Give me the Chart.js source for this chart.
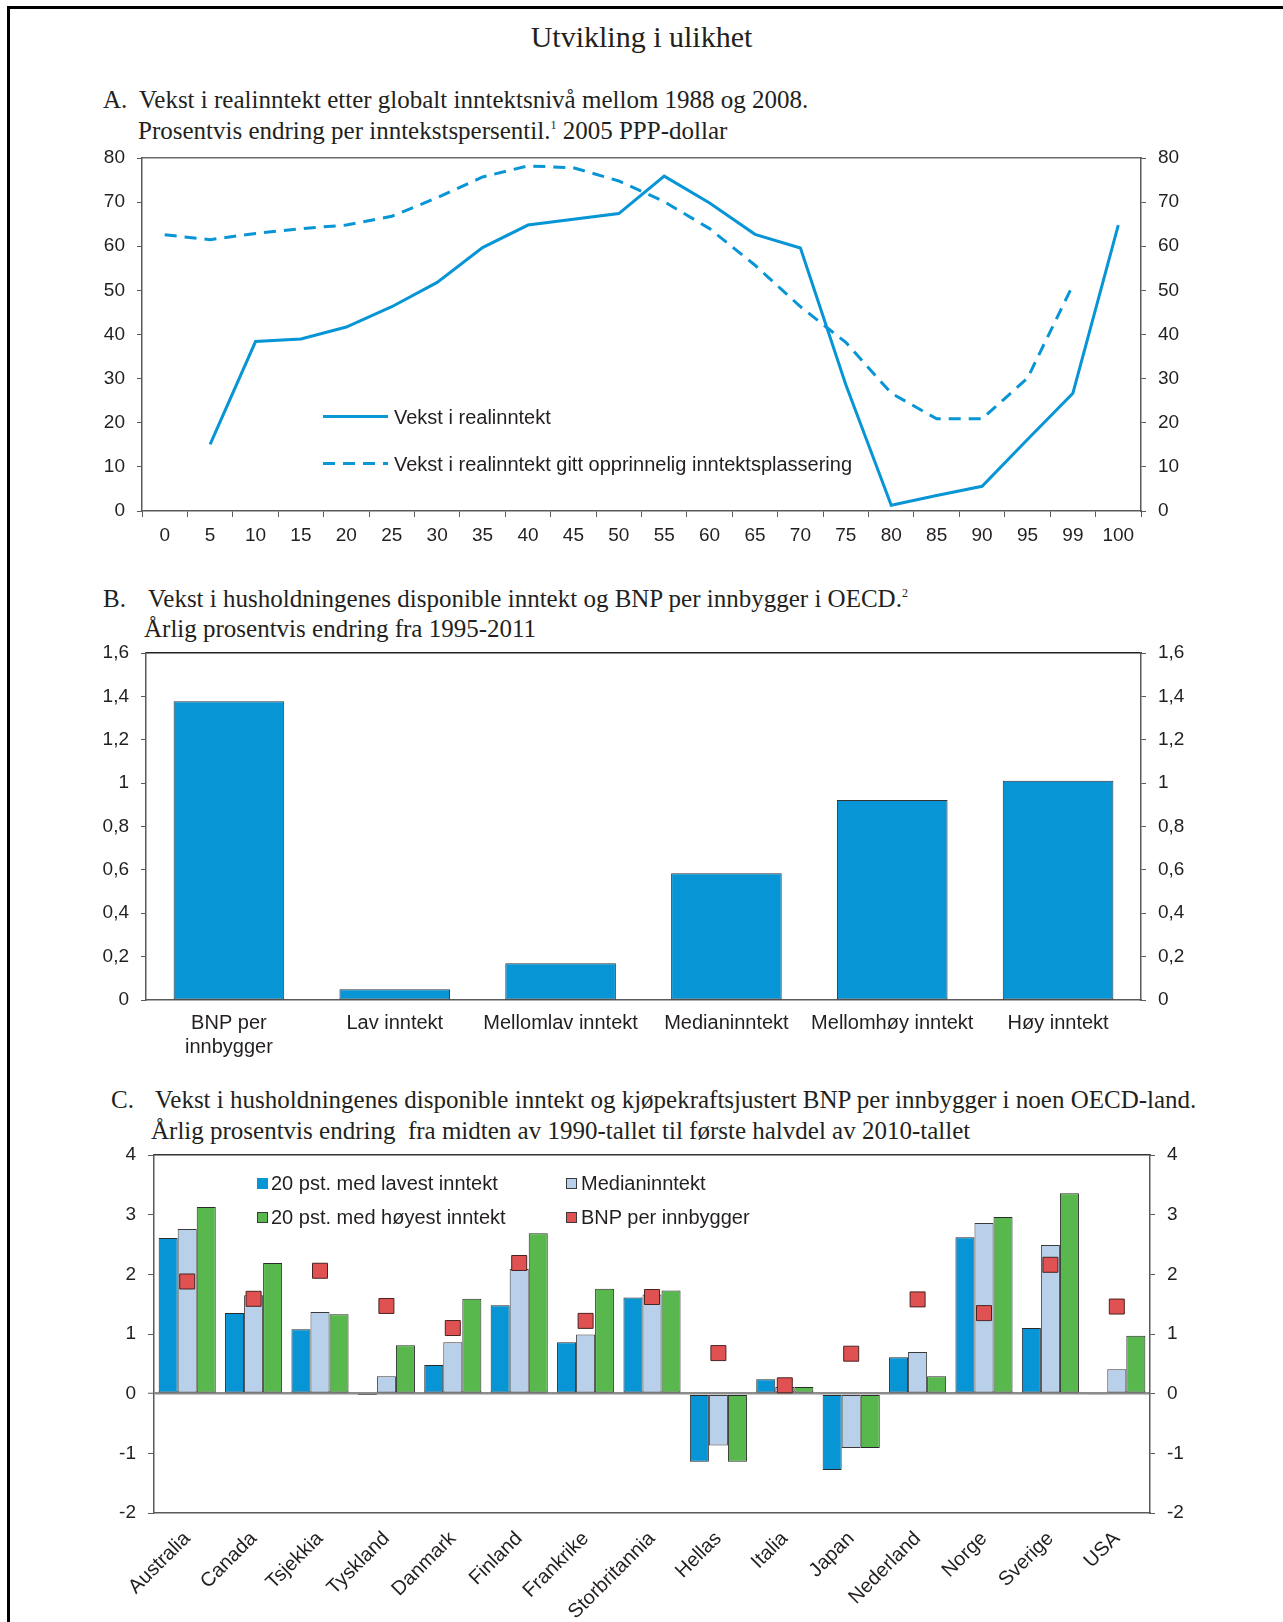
<!DOCTYPE html>
<html lang="no">
<head>
<meta charset="UTF-8">
<title>Utvikling i ulikhet</title>
<script src="https://cdn.jsdelivr.net/npm/chart.js"></script>
<style>
  html { overflow: hidden; }
  html, body { margin: 0; padding: 0; background: #fff; }
  body { width: 1283px; height: 1622px; position: relative; overflow: hidden; color: #231f20; }
  .frame { position: absolute; left: 7px; top: 6px; width: 1400px; height: 1700px; border-left: 3px solid #000; border-top: 3px solid #000; }
  .serif { position: absolute; font-family: 'Liberation Serif', 'Times New Roman', serif; font-size: 25px; line-height: 30px; white-space: pre; }
  .serif sup { font-size: 12px; vertical-align: 10px; line-height: 0; }
  .title { font-size: 30px; left: 0; width: 1283px; text-align: center; }
  .sans { position: absolute; font-family: 'Liberation Sans', Arial, sans-serif; font-size: 20px; line-height: 24px; white-space: nowrap; }
  .swatch { position: absolute; width: 9px; height: 9px; border: 1px solid #3a3a3a; }
  canvas { position: absolute; left: 0; }
</style>
</head>
<body>
<div class="frame"></div>

<div class="serif title" style="top:22px;">Utvikling i ulikhet</div>

<div class="serif" style="left:103px; top:85px;">A.</div>
<div class="serif" style="left:139px; top:85px;">Vekst i realinntekt etter globalt inntektsnivå mellom 1988 og 2008.</div>
<div class="serif" style="left:138px; top:116px;">Prosentvis endring per inntekstspersentil.<sup>1</sup> 2005 PPP-dollar</div>

<div class="serif" style="left:103px; top:584px;">B.</div>
<div class="serif" style="left:148px; top:584px;">Vekst i husholdningenes disponible inntekt og BNP per innbygger i OECD.<sup>2</sup></div>
<div class="serif" style="left:144px; top:614px;">Årlig prosentvis endring fra 1995-2011</div>

<div class="serif" style="left:111px; top:1085px;">C.</div>
<div class="serif" style="left:155px; top:1085px;">Vekst i husholdningenes disponible inntekt og kjøpekraftsjustert BNP per innbygger i noen OECD-land.</div>
<div class="serif" style="left:151px; top:1116px;">Årlig prosentvis endring  fra midten av 1990-tallet til første halvdel av 2010-tallet</div>

<canvas id="chartA" width="1283" height="426" style="top:134px;"></canvas>
<canvas id="chartB" width="1283" height="441" style="top:629px;"></canvas>
<canvas id="chartC" width="1283" height="491" style="top:1131px;"></canvas>

<!-- legend A -->
<div style="position:absolute; left:323px; top:415px; width:65px; height:3px; background:#0b96d4;"></div>
<div class="sans" style="left:394px; top:405px;">Vekst i realinntekt</div>
<div style="position:absolute; left:323px; top:462px; width:65px; height:3px; background:repeating-linear-gradient(90deg, #0b96d4 0 12px, transparent 12px 20px);"></div>
<div class="sans" style="left:394px; top:452px;">Vekst i realinntekt gitt opprinnelig inntektsplassering</div>

<!-- legend C -->
<div class="swatch" style="left:257px; top:1178px; background:#0795d5; border-color:#0795d5;"></div>
<div class="sans" style="left:271px; top:1171px;">20 pst. med lavest inntekt</div>
<div class="swatch" style="left:566px; top:1178px; background:#b8d0ea;"></div>
<div class="sans" style="left:581px; top:1171px;">Medianinntekt</div>
<div class="swatch" style="left:257px; top:1212px; background:#58b84e;"></div>
<div class="sans" style="left:271px; top:1205px;">20 pst. med høyest inntekt</div>
<div class="swatch" style="left:566px; top:1212px; background:#e05252;"></div>
<div class="sans" style="left:581px; top:1205px;">BNP per innbygger</div>

<script>
// Panel A: percentiles
const pctLabels = ['0', '5', '10', '15', '20', '25', '30', '35', '40', '45', '50', '55', '60', '65', '70', '75', '80', '85', '90', '95', '99', '100'];
const realGrowth = [null, 15.1, 38.4, 39.0, 41.7, 46.3, 51.8, 59.7, 64.8, 66.1, 67.4, 75.9, 69.8, 62.7, 59.6, 28.6, 1.3, 3.5, 5.6, 16.2, 26.7, 64.8];
const realGrowthOrig = [62.6, 61.5, 62.9, 64.0, 64.8, 66.8, 71.0, 75.7, 78.2, 77.8, 74.8, 70.1, 64.0, 55.7, 46.3, 38.2, 26.7, 20.9, 20.9, 30.1, 51.2, null];

// Panel B: OECD
const oecdGroups = [['BNP per', 'innbygger'], 'Lav inntekt', 'Mellomlav inntekt', 'Medianinntekt', 'Mellomhøy inntekt', 'Høy inntekt'];
const oecdValues = [1.377, 0.049, 0.169, 0.585, 0.922, 1.011];

// Panel C: countries
const countries = ['Australia', 'Canada', 'Tsjekkia', 'Tyskland', 'Danmark', 'Finland', 'Frankrike', 'Storbritannia', 'Hellas', 'Italia', 'Japan', 'Nederland', 'Norge', 'Sverige', 'USA'];
const lowest20 = [2.61, 1.35, 1.08, -0.01, 0.48, 1.48, 0.86, 1.61, -1.14, 0.24, -1.28, 0.61, 2.62, 1.10, -0.02];
const median = [2.76, 1.65, 1.37, 0.29, 0.86, 2.09, 0.99, 1.66, -0.87, 0.11, -0.91, 0.70, 2.86, 2.49, 0.41];
const highest20 = [3.13, 2.19, 1.33, 0.81, 1.59, 2.69, 1.76, 1.73, -1.14, 0.11, -0.91, 0.29, 2.96, 3.36, 0.97];
const gdpPerCapita = [1.88, 1.59, 2.06, 1.47, 1.10, 2.19, 1.22, 1.62, 0.68, 0.14, 0.67, 1.58, 1.35, 2.16, 1.46];

const TXT = '#231f20';
const AXIS = '#5a5a5a';
const BLUE = '#0795d5';

Chart.defaults.font.family = "'Liberation Sans', Arial, sans-serif";
Chart.defaults.font.size = 19;
Chart.defaults.color = TXT;
Chart.defaults.animation = false;
Chart.defaults.responsive = false;
Chart.defaults.plugins.legend.display = false;
Chart.defaults.plugins.tooltip.enabled = false;

const comma = v => String(+Number(v).toFixed(1)).replace('.', ',');

function yAxis(pos, min, max, step, fmt, extra) {
    return Object.assign({
        position: pos,
        min: min,
        max: max,
        ticks: { stepSize: step, padding: 12, color: TXT, callback: fmt },
        grid: { drawOnChartArea: false, drawTicks: true, tickLength: 5, color: AXIS, lineWidth: 1 },
        border: { display: true, color: AXIS, width: 1.5 },
        afterFit: s => { s.width = 60; }
    }, extra || {});
}

function topLine(color) {
    return {
        type: 'category',
        position: 'top',
        offset: true,
        grid: { display: false, drawTicks: false },
        ticks: { display: false },
        border: { display: true, color: color, width: 1.5 },
        afterFit: s => { s.height = 0; }
    };
}

// A
new Chart(document.getElementById('chartA'), {
    type: 'line',
    data: {
        labels: pctLabels,
        datasets: [
            { data: realGrowth, borderColor: BLUE, borderWidth: 3, pointRadius: 0, tension: 0, fill: false },
            { data: realGrowthOrig, borderColor: BLUE, borderWidth: 3, borderDash: [12, 8], pointRadius: 0, tension: 0, fill: false }
        ]
    },
    options: {
        layout: { padding: { left: 82, right: 82, top: 24, bottom: 0 } },
        scales: {
            x: {
                type: 'category',
                offset: true,
                grid: { display: true, offset: true, drawOnChartArea: false, tickLength: 6, color: AXIS },
                border: { display: true, color: AXIS, width: 1.5 },
                ticks: { padding: 7, maxRotation: 0, autoSkip: false, color: TXT },
                afterFit: s => { s.height = 49; }
            },
            xTop: topLine('#6a6a6a'),
            y: yAxis('left', 0, 80, 10),
            y2: yAxis('right', 0, 80, 10)
        }
    }
});

// B
new Chart(document.getElementById('chartB'), {
    type: 'bar',
    data: {
        labels: oecdGroups,
        datasets: [{
            data: oecdValues,
            backgroundColor: BLUE,
            borderColor: '#333',
            borderWidth: 1,
            borderSkipped: false,
            categoryPercentage: 0.667,
            barPercentage: 1
        }]
    },
    options: {
        layout: { padding: { left: 86, right: 82, top: 24, bottom: 0 } },
        scales: {
            x: {
                grid: { display: false, drawTicks: false },
                border: { display: true, color: AXIS, width: 1.5 },
                ticks: { padding: 11, maxRotation: 0, autoSkip: false, color: TXT, font: { size: 20, lineHeight: 1.2 } },
                afterFit: s => { s.height = 70; }
            },
            xTop: topLine('#222'),
            y: yAxis('left', 0, 1.6, 0.2, comma),
            y2: yAxis('right', 0, 1.6, 0.2, comma)
        }
    }
});

// C
new Chart(document.getElementById('chartC'), {
    type: 'bar',
    data: {
        labels: countries,
        datasets: [
            { type: 'line', data: gdpPerCapita, showLine: false, pointStyle: 'rect', pointRadius: 10.6,
              backgroundColor: '#e05252', borderColor: '#4a2323', borderWidth: 1, order: 0 },
            { data: lowest20, backgroundColor: BLUE, borderColor: '#2a2a2a', borderWidth: 1, borderSkipped: false, order: 1 },
            { data: median, backgroundColor: '#b8d0ea', borderColor: '#3a3a3a', borderWidth: 1, borderSkipped: false, order: 1 },
            { data: highest20, backgroundColor: '#58b84e', borderColor: '#2a2a2a', borderWidth: 1, borderSkipped: false, order: 1 }
        ]
    },
    options: {
        datasets: { bar: { categoryPercentage: 0.86, barPercentage: 1 } },
        layout: { padding: { left: 94, right: 73, top: 24, bottom: 0 } },
        scales: {
            x: {
                grid: { display: false, drawTicks: false },
                border: { display: true, color: AXIS, width: 1.5 },
                ticks: { padding: 14, minRotation: 45, maxRotation: 45, autoSkip: false, color: TXT, font: { size: 20 } },
                afterFit: s => { s.height = 109; }
            },
            xTop: topLine('#333'),
            y: yAxis('left', -2, 4, 1, undefined, {
                grid: {
                    drawOnChartArea: true, drawTicks: true, tickLength: 6,
                    color: c => c.tick && c.tick.value === 0 ? '#8c8c8c' : 'rgba(0,0,0,0)',
                    lineWidth: c => c.tick && c.tick.value === 0 ? 2.5 : 1,
                    tickColor: AXIS, tickWidth: 1
                }
            }),
            y2: yAxis('right', -2, 4, 1)
        }
    }
});
</script>
</body>
</html>
